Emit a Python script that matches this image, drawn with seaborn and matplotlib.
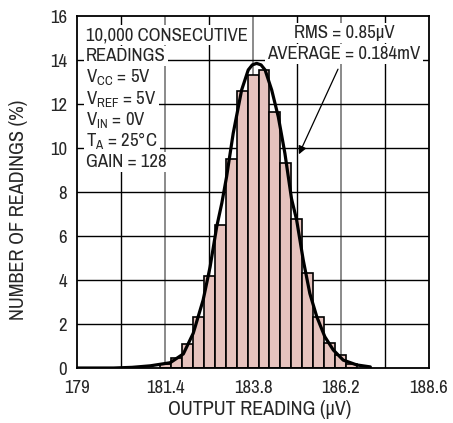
import numpy as np
import pandas as pd
import matplotlib
matplotlib.use('Agg')
import matplotlib.pyplot as plt
import seaborn as sns

# Histogramme des lectures (centres des classes, % des lectures)
bin_centers = [181.4, 181.7, 182.0, 182.3, 182.6, 182.9, 183.2, 183.5, 183.8,
               184.1, 184.4, 184.7, 185.0, 185.3, 185.6, 185.9, 186.2, 186.5]
bin_pct = [0.2, 0.44, 1.09, 2.34, 4.2, 6.5, 9.5, 12.6, 13.33,
           13.55, 11.63, 9.3, 6.77, 4.33, 2.31, 1.12, 0.59, 0.18]
bin_width = 0.3

# Courbe gaussienne
curve_x = [179.0, 180.0, 180.5, 181.0, 181.54, 181.9, 182.17, 182.44, 182.63,
           182.81, 182.95, 183.08, 183.26, 183.49, 183.67, 183.78, 183.9, 184.02,
           184.13, 184.31, 184.49, 184.67, 184.85, 184.99, 185.17, 185.35, 185.54,
           185.76, 185.99, 186.26, 186.63, 187.0]
curve_y = [0.0, 0.0, 0.03, 0.1, 0.24, 0.64, 1.58, 3.09, 4.6,
           6.42, 7.5, 8.7, 10.67, 12.64, 13.55, 13.78, 13.85, 13.78,
           13.55, 12.64, 11.42, 9.76, 7.7, 6.73, 4.91, 3.39, 2.33,
           1.42, 0.82, 0.36, 0.14, 0.05]

x_ticks = [179, 181.4, 183.8, 186.2, 188.6]
x_tick_labels = ['179', '181.4', '183.8', '186.2', '188.6']
x_minor = [180.2, 182.6, 185.0, 187.4]
y_ticks = [0, 2, 4, 6, 8, 10, 12, 14, 16]

cond_lines = ['10,000 CONSECUTIVE', 'READINGS',
              '$\\mathregular{V_{CC}}$ = 5V', '$\\mathregular{V_{REF}}$ = 5V',
              '$\\mathregular{V_{IN}}$ = 0V', '$\\mathregular{T_{A}}$ = 25°C',
              'GAIN = 128']
stat_lines = ['RMS = 0.85µV', 'AVERAGE = 0.184mV']

font = 'Archivo Narrow'
sns.set_style('white')
plt.rcParams['font.family'] = [font, 'Liberation Sans', 'DejaVu Sans']
plt.rcParams['mathtext.fontset'] = 'custom'
plt.rcParams['mathtext.rm'] = font
plt.rcParams['mathtext.it'] = font
plt.rcParams['mathtext.bf'] = font
fs = 13.5

fig = plt.figure(figsize=(4.53, 4.23), dpi=100)
ax = fig.add_axes([0.170, 0.130, 0.777, 0.832])

# Grille
for xv in x_minor:
    ax.axvline(xv, color='black', lw=1.0, zorder=0)
for xv in x_ticks[1:-1]:
    ax.axvline(xv, color='#777777', lw=1.2, zorder=0)
for yv in y_ticks[1:-1]:
    ax.axhline(yv, color='black', lw=1.0, zorder=0)

df = pd.DataFrame({'reading': bin_centers, 'pct': bin_pct})
lo = bin_centers[0] - bin_width / 2
hi = bin_centers[-1] + bin_width / 2
sns.histplot(data=df, x='reading', weights='pct', binwidth=bin_width,
             binrange=(lo, hi), color='#e6c3be', alpha=1.0,
             edgecolor='black', linewidth=1.2, ax=ax, zorder=2)

sns.lineplot(x=curve_x, y=curve_y, color='black', lw=2.3, ax=ax, zorder=3,
             sort=False, estimator=None)

ax.set_xlim(179, 188.6)
ax.set_ylim(0, 16)
ax.set_xticks(x_ticks)
ax.set_xticklabels(x_tick_labels)
ax.set_yticks(y_ticks)
ax.tick_params(axis='x', length=0, labelsize=fs, pad=18)
ax.tick_params(axis='y', length=0, labelsize=fs, pad=7)
for lab in ax.get_xticklabels():
    lab.set_verticalalignment('baseline')
ax.set_xlabel('OUTPUT READING (µV)', fontsize=14.5, va='baseline')
ax.set_ylabel('NUMBER OF READINGS (%)', fontsize=14.5)
ax.xaxis.set_label_coords(0.52, -0.133)
ax.yaxis.set_label_coords(-0.139, 0.449)
for s in ax.spines.values():
    s.set_color('black')
    s.set_linewidth(1.3)

# Annotations (une ligne = une boite blanche, sous les barres)
box = dict(facecolor='white', edgecolor='none', pad=1.5)
for i, line in enumerate(cond_lines):
    ax.text(179.245, 14.91 - 0.962 * i, line, fontsize=fs, va='baseline',
            ha='left', zorder=1, bbox=box)
for i, line in enumerate(stat_lines):
    ax.text(186.28, 15.0 - 0.97 * i, line, fontsize=fs, va='baseline',
            ha='center', zorder=1, bbox=box)
ax.annotate('', xy=(185.02, 9.6), xytext=(186.15, 13.7),
            arrowprops=dict(arrowstyle='-|>', color='black', lw=0.9,
                            mutation_scale=12), zorder=5)

plt.savefig('out.png', dpi=100)
